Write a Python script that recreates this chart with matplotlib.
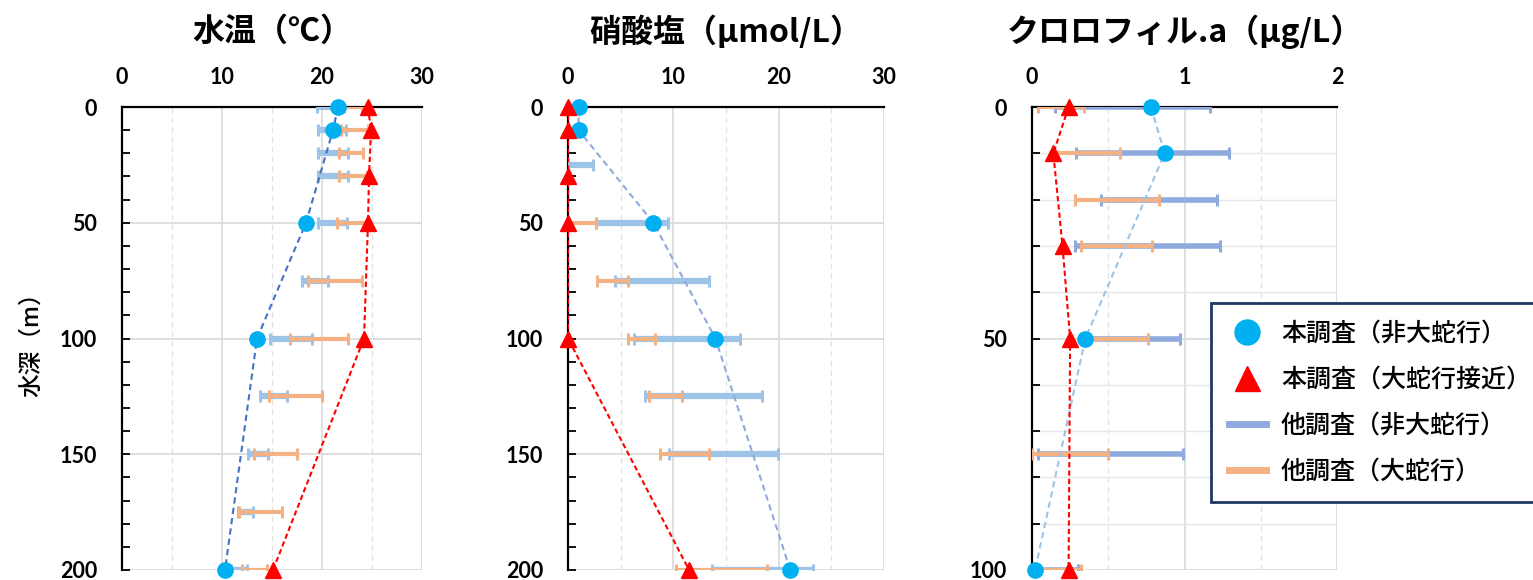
import matplotlib
matplotlib.use('Agg')
import numpy as np
from matplotlib import pyplot as plt
from matplotlib.lines import Line2D
from matplotlib.ticker import MultipleLocator

JP = ['Noto Sans CJK JP', 'DejaVu Sans']
NUM = ['Lato', 'DejaVu Sans']

# ---- 水温 (degC) ----
temp_depth_nm = [0, 10, 50, 100, 200]
temp_nm = [21.6, 21.1, 18.4, 13.5, 10.3]
temp_depth_lm = [0, 10, 30, 50, 100, 200]
temp_lm = [24.6, 24.9, 24.7, 24.6, 24.2, 15.1]
temp_other_depth = [0, 10, 20, 30, 50, 75, 100, 125, 150, 175, 200]
temp_other_nm_lo = [19.5, 19.6, 19.6, 19.6, 19.6, 18.0, 14.8, 13.8, 12.6, 11.6, 10.9]
temp_other_nm_hi = [22.0, 22.4, 22.6, 22.6, 22.5, 20.6, 19.0, 16.5, 14.6, 13.1, 12.5]
temp_other_lm_lo = [22.2, 21.9, 21.7, 21.7, 21.5, 18.6, 16.8, 14.7, 13.2, 11.7, 12.0]
temp_other_lm_hi = [24.0, 24.6, 24.1, 24.5, 24.5, 24.0, 22.6, 20.0, 17.5, 16.0, 14.5]

# ---- 硝酸塩 (umol/L) ----
no3_depth_nm = [0, 10, 50, 100, 200]
no3_nm = [1.0, 1.0, 8.1, 14.0, 21.1]
no3_depth_lm = [0, 10, 30, 50, 100, 200]
no3_lm = [0.0, 0.0, 0.0, 0.0, 0.0, 11.5]
no3_other_nm_depth = [25, 50, 75, 100, 125, 150, 200]
no3_other_nm_lo = [0.0, 2.7, 4.5, 6.3, 7.3, 9.6, 13.7]
no3_other_nm_hi = [2.4, 9.5, 13.4, 16.3, 18.4, 19.9, 23.3]
no3_other_lm_depth = [50, 75, 100, 125, 150, 200]
no3_other_lm_lo = [0.0, 2.75, 5.65, 7.7, 8.75, 10.3]
no3_other_lm_hi = [2.7, 5.7, 8.3, 10.8, 13.4, 18.9]

# ---- クロロフィル a (ug/L) ----
chl_depth_nm = [0, 10, 50, 100]
chl_nm = [0.78, 0.87, 0.35, 0.02]
chl_depth_lm = [0, 10, 30, 50, 100]
chl_lm = [0.24, 0.14, 0.20, 0.25, 0.24]
chl_other_depth = [0, 10, 20, 30, 50, 75, 100]
chl_other_nm_lo = [0.15, 0.29, 0.45, 0.28, 0.38, 0.04, 0.02]
chl_other_nm_hi = [1.17, 1.29, 1.21, 1.23, 0.97, 0.99, 0.30]
chl_other_lm_lo = [0.04, 0.14, 0.28, 0.32, 0.35, 0.0, 0.0]
chl_other_lm_hi = [0.34, 0.58, 0.83, 0.79, 0.76, 0.50, 0.32]

titles = ['水温（℃）', '硝酸塩（μmol/L）', 'クロロフィル.a（μg/L）']
legend_labels = ['本調査（非大蛇行）', '本調査（大蛇行接近）', '他調査（非大蛇行）', '他調査（大蛇行）']

C_CIRCLE = '#00B0F0'
C_TRI = '#FF0000'
C_OTHER_NM = '#8FAADC'
C_OTHER_LM = '#F4B183'


def range_bars(ax, depth, lo, hi, color, lw, alpha=1.0):
    lo = np.asarray(lo)
    hi = np.asarray(hi)
    ax.errorbar(lo, depth, xerr=[np.zeros_like(lo), hi - lo], fmt='none',
                ecolor=color, elinewidth=lw, capsize=4, capthick=2.2, alpha=alpha, zorder=3)


def setup_axes(ax, xmax, xmajor, xminor, ymax, ymajor, yminor, grid_minor_y):
    ax.set_xlim(0, xmax)
    ax.set_ylim(ymax, 0)
    ax.xaxis.tick_top()
    ax.xaxis.set_major_locator(MultipleLocator(xmajor))
    ax.xaxis.set_minor_locator(MultipleLocator(xminor))
    ax.yaxis.set_major_locator(MultipleLocator(ymajor))
    ax.yaxis.set_minor_locator(MultipleLocator(yminor))
    ax.tick_params(axis='x', which='both', length=0, pad=14)
    ax.tick_params(axis='y', which='both', direction='in', length=6, width=1.3, pad=18)
    for lab in ax.get_xticklabels() + ax.get_yticklabels():
        lab.set_fontfamily(NUM)
        lab.set_fontweight('bold')
        lab.set_fontsize(15.5)
    ax.grid(axis='x', which='major', color='#D9D9D9', lw=1.2)
    ax.grid(axis='x', which='minor', color='#E3E3E3', lw=1.0, ls=(0, (4, 3)))
    ax.grid(axis='y', which='major', color='#D9D9D9', lw=1.2)
    if grid_minor_y:
        ax.grid(axis='y', which='minor', color='#E6E6E6', lw=1.0)
    ax.set_axisbelow(True)
    ax.spines['right'].set_visible(False)
    ax.spines['bottom'].set_visible(False)
    ax.spines['left'].set_linewidth(1.6)
    ax.spines['top'].set_linewidth(1.6)


def main_series(ax, d_nm, v_nm, d_lm, v_lm, nm_line_color):
    ax.plot(v_nm, d_nm, color=nm_line_color, lw=1.5, dashes=(3, 2), zorder=4)
    ax.plot(v_lm, d_lm, color=C_TRI, lw=1.5, dashes=(2.5, 1.5), zorder=4)
    ax.plot(v_nm, d_nm, ls='none', marker='o', ms=11, mfc=C_CIRCLE, mec=C_CIRCLE,
            zorder=5, clip_on=False)
    ax.plot(v_lm, d_lm, ls='none', marker='^', ms=12, mfc=C_TRI, mec=C_TRI,
            zorder=6, clip_on=False)


fig = plt.figure(figsize=(15.33, 5.8), dpi=100)
W, H = 1533, 580
ax1 = fig.add_axes([122 / W, 10 / H, 300 / W, 463 / H])
ax2 = fig.add_axes([568 / W, 10 / H, 316 / W, 463 / H])
ax3 = fig.add_axes([1032 / W, 10 / H, 305 / W, 463 / H])

# panel 1
setup_axes(ax1, 30, 10, 5, 200, 50, 10, False)
range_bars(ax1, temp_other_depth, temp_other_nm_lo, temp_other_nm_hi, '#9DC3E6', 4.5)
range_bars(ax1, temp_other_depth, temp_other_lm_lo, temp_other_lm_hi, C_OTHER_LM, 3)
main_series(ax1, temp_depth_nm, temp_nm, temp_depth_lm, temp_lm, '#4472C4')
ax1.set_ylabel('水深（m）', fontfamily=JP, fontsize=17, fontweight='medium', labelpad=12)

# panel 2
setup_axes(ax2, 30, 10, 5, 200, 50, 10, False)
range_bars(ax2, no3_other_nm_depth, no3_other_nm_lo, no3_other_nm_hi, '#9DC3E6', 4.5)
range_bars(ax2, no3_other_lm_depth, no3_other_lm_lo, no3_other_lm_hi, C_OTHER_LM, 3)
main_series(ax2, no3_depth_nm, no3_nm, no3_depth_lm, no3_lm, C_OTHER_NM)

# panel 3
setup_axes(ax3, 2, 1, 0.5, 100, 50, 10, True)
range_bars(ax3, chl_other_depth, chl_other_nm_lo, chl_other_nm_hi, C_OTHER_NM, 4)
range_bars(ax3, chl_other_depth, chl_other_lm_lo, chl_other_lm_hi, C_OTHER_LM, 3)
main_series(ax3, chl_depth_nm, chl_nm, chl_depth_lm, chl_lm, '#9DC3E6')

for ax, t in zip([ax1, ax2, ax3], titles):
    ax.text(0.5, (H - 32 - 10) / 463, t, transform=ax.transAxes, ha='center', va='center',
            fontfamily=JP, fontsize=23, fontweight='bold')

handles = [
    Line2D([], [], ls='none', marker='o', ms=18, mfc=C_CIRCLE, mec=C_CIRCLE),
    Line2D([], [], ls='none', marker='^', ms=18, mfc=C_TRI, mec=C_TRI),
    Line2D([], [], color=C_OTHER_NM, lw=5),
    Line2D([], [], color=C_OTHER_LM, lw=5),
]
leg = fig.legend(handles, legend_labels, loc='upper left',
                 bbox_to_anchor=(1211 / W, 1 - 303 / H), bbox_transform=fig.transFigure,
                 prop={'family': JP, 'size': 18, 'weight': 'medium'}, frameon=True,
                 fancybox=False, framealpha=1, edgecolor='#1F3864', borderaxespad=0,
                 handlelength=1.5, handletextpad=0.6, labelspacing=0.8, borderpad=0.7)
leg.get_frame().set_linewidth(2)

fig.savefig('out.png', dpi=100)
